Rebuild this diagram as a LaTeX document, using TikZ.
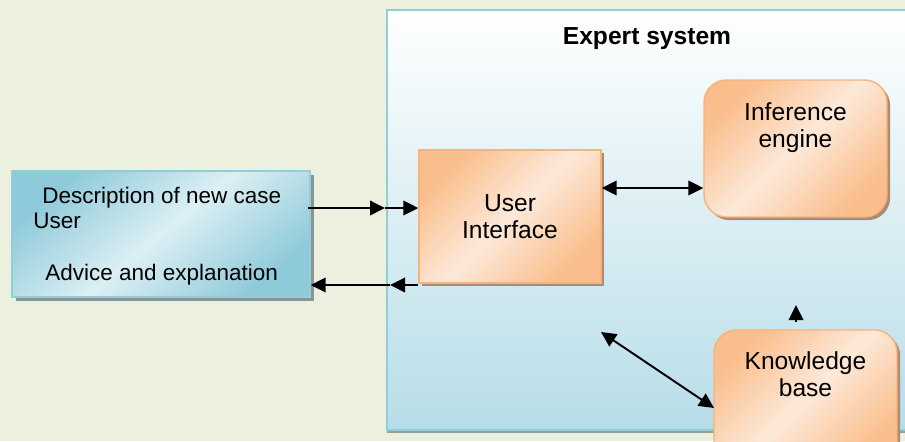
\documentclass[tikz,border=0pt]{standalone}
\usepackage{fontspec}
\setmainfont{Liberation Sans}
\usepackage{tikz}
\usetikzlibrary{arrows.meta,shadows}
\definecolor{bggreen}{RGB}{235,241,222}
\definecolor{esborder}{RGB}{146,205,220}
\definecolor{esbottom}{RGB}{183,221,232}
\definecolor{ubdark}{RGB}{143,202,218}
\definecolor{ublight}{RGB}{220,239,244}
\definecolor{ordark}{RGB}{250,190,140}
\definecolor{orlight}{RGB}{253,233,217}
\definecolor{orborder}{RGB}{247,178,125}
\definecolor{orshadow}{RGB}{170,140,115}
\definecolor{blshadow}{RGB}{125,140,140}

\begin{document}
\begin{tikzpicture}[
		arr/.style={line width=1.1pt,-{Triangle[length=3mm,width=2.9mm]}},
		darr/.style={line width=1.1pt,{Triangle[length=3mm,width=2.9mm]}-{Triangle[length=3mm,width=2.9mm]}},
		big/.style={inner sep=0pt,font=\fontsize{14}{15.5}\selectfont,align=center},
		orbox/.style={big,drop shadow={shadow xshift=1.8pt,shadow yshift=-1.8pt,fill=orshadow,opacity=1},draw=orborder,line width=0.8pt,left color=ordark,right color=ordark,middle color=orlight,shading angle=45},
		small/.style={font=\fontsize{12.8}{14}\selectfont,inner sep=0pt,anchor=base west}
	]
		\clip (0,0) rectangle (18.1,8.82);
		\fill[bggreen] (0,0) rectangle (18.1,8.82);
		\node[draw=esborder,line width=1.2pt,top color=white,bottom color=esbottom,drop shadow={shadow xshift=0pt,shadow yshift=-1.5pt,fill=blshadow,opacity=0.8},minimum width=10.66cm,minimum height=8.4cm] (es) at (13.07,4.42) {};
		\node[font=\bfseries\fontsize{14}{16}\selectfont,anchor=base,inner sep=0pt] (title) at (12.94,7.94) {Expert system};
		\node[drop shadow={shadow xshift=2pt,shadow yshift=-2pt,fill=blshadow,opacity=0.9},draw=esborder,line width=0.8pt,left color=ubdark,right color=ubdark,middle color=ublight,shading angle=40,minimum width=5.96cm,minimum height=2.52cm] (user) at (3.22,4.14) {};
		\node[small] (desc) at (0.84,4.76) {Description of new case};
		\node[small] (usr) at (0.66,4.26) {User};
		\node[small] (advice) at (0.90,3.22) {Advice and explanation};
		\node[orbox,minimum width=3.64cm,minimum height=2.66cm] (ui) at (10.2,4.49) {User\\Interface};
		\node[orbox,rounded corners=0.45cm,minimum width=3.66cm,minimum height=2.74cm] (inf) at (15.91,5.85) {};
		\node[big,anchor=north] (inftxt) at ([yshift=-0.46cm]inf.north) {Inference\\engine};
		\node[orbox,rounded corners=0.45cm,minimum width=3.66cm,minimum height=2.74cm] (kb) at (16.11,0.85) {};
		\node[big,anchor=north] (kbtxt) at ([yshift=-0.44cm]kb.north) {Knowledge\\base};
		\coordinate (inA) at (6.16,4.66);
		\coordinate (inB) at (7.70,4.66);
		\coordinate (outA) at (7.80,3.12);
		\coordinate (mid) at (13,5.06);
		\coordinate (upA) at (15.92,2.38);
		\coordinate (upB) at (15.92,2.72);
		\coordinate (diagA) at (12.02,2.18);
		\coordinate (diagB) at (14.28,0.66);
		\draw[arr] (inA) -- (inB);
		\draw[arr] (inB) -- (ui.west |- inB);
		\draw[arr] (ui.west |- outA) -- (outA);
		\draw[arr] (outA) -- (user.east |- outA);
		\draw[darr] (ui.east |- mid) -- (inf.west |- mid);
		\draw[arr] (upA) -- (upB);
		\draw[darr] (diagA) -- (diagB);
\end{tikzpicture}
\end{document}
